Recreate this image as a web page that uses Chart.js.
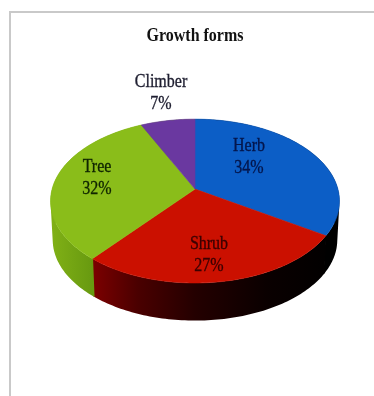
<!DOCTYPE html>
<html>
<head>
<meta charset="utf-8">
<style>
  html, body { margin: 0; padding: 0; background: #fff; }
  #frame { position: absolute; left: 9px; top: 11px; width: 365px; height: 385px;
           border-left: 2px solid #c9c9c9; border-top: 2px solid #c9c9c9; box-sizing: border-box; }
  canvas { position: absolute; left: 0; top: 0; }
</style>
<script src="https://cdn.jsdelivr.net/npm/chart.js@4/dist/chart.umd.min.js"></script>
</head>
<body>
<div id="frame"></div>
<canvas id="chart" width="374" height="396"></canvas>
<script>
const categories = ['Herb', 'Shrub', 'Tree', 'Climber'];
const shares = [34, 27, 32, 7];
const topColors = ['#0c5ec6', '#cb1000', '#8abd1a', '#6a38a0'];
const labelColors = ['#04164c', '#3a0202', '#102600', '#1e1e30'];
const titleText = 'Growth forms';

// Tilted-disc projection: the far rim recedes, so the hub sits above the ellipse centre.
const TILT = 0.146, SQUASH = 0.561, DEPTH = 39, FLOOR_SCALE = 0.985;
// Text in this figure is drawn tall and narrow.
const TEXT_STRETCH = 1.22;

function project(el, angle, shift, scale) {
  const u = Math.cos(angle), v = Math.sin(angle);
  const w = 1 - TILT * v;
  return [
    el.x + el.outerRadius * scale * u / w,
    el.y + shift + el.outerRadius * SQUASH * scale * v / w
  ];
}

function wallFill(ctx, index) {
  const g = ctx.createLinearGradient(52, 0, 338, 0);
  if (index === 2 || index === 3) {
    g.addColorStop(0, '#80b016');
    g.addColorStop(0.14, '#689a10');
    return g;
  }
  if (index === 1) {
    g.addColorStop(0.13, '#800000');
    g.addColorStop(0.3, '#4a0000');
    g.addColorStop(0.5, '#240000');
    g.addColorStop(0.75, '#0a0000');
    g.addColorStop(1, '#000000');
    return g;
  }
  return '#000000';
}

function signedArea(points) {
  return points.reduce((sum, [x, y], k) => {
    const [nx, ny] = points[(k + 1) % points.length];
    return sum + x * ny - nx * y;
  }, 0);
}

// The wall is one path of small quads wound the same way, so none of them cancel.
function drawWall(ctx, el, index, startAngle, endAngle) {
  const from = startAngle - 0.006, to = endAngle + 0.006;
  const steps = Math.max(2, Math.ceil((to - from) / 0.02));
  ctx.beginPath();
  for (let i = 0; i < steps; i++) {
    const a = from + (to - from) * i / steps;
    const b = from + (to - from) * (i + 1) / steps;
    const corners = [
      project(el, a, 0, 1), project(el, b, 0, 1),
      project(el, b, DEPTH, FLOOR_SCALE), project(el, a, DEPTH, FLOOR_SCALE)
    ];
    if (signedArea(corners) < 0) corners.reverse();
    corners.forEach(([x, y], k) => (k ? ctx.lineTo(x, y) : ctx.moveTo(x, y)));
    ctx.closePath();
  }
  ctx.fillStyle = wallFill(ctx, index);
  ctx.fill();
}

const discPlugin = {
  id: 'tiltedDisc',
  afterLayout(chart) {
    const block = chart.titleBlock;
    if (block.stretched) return;
    block.stretched = true;
    const plainDraw = block.draw;
    block.draw = function () {
      const ctx = this.ctx;
      const mid = this.top + this.height / 2;
      ctx.save();
      ctx.translate(0, mid);
      ctx.scale(1, TEXT_STRETCH);
      ctx.translate(0, -mid);
      plainDraw.call(this);
      ctx.restore();
    };
  },
  beforeDatasetDraw(chart, args) {
    const { ctx } = chart;
    const arcs = args.meta.data;
    ctx.save();
    // Side wall first, then the top faces over it.
    arcs.forEach((el, i) => {
      const { startAngle, endAngle } = el.getProps(['startAngle', 'endAngle'], true);
      drawWall(ctx, el, i, startAngle, endAngle);
    });
    arcs.forEach((el) => {
      const { startAngle, endAngle } = el.getProps(['startAngle', 'endAngle'], true);
      const steps = Math.ceil((endAngle - startAngle) / 0.02);
      ctx.beginPath();
      ctx.moveTo(el.x, el.y);
      for (let i = 0; i <= steps; i++) {
        const [x, y] = project(el, startAngle + (endAngle - startAngle) * i / steps, 0, 1);
        ctx.lineTo(x, y);
      }
      ctx.closePath();
      ctx.fillStyle = el.options.backgroundColor;
      ctx.strokeStyle = el.options.backgroundColor;
      ctx.lineWidth = 0.6;
      ctx.fill();
      ctx.stroke();
    });
    ctx.restore();
    return false;
  },
  afterDatasetsDraw(chart, args, opts) {
    const { ctx } = chart;
    const values = chart.data.datasets[0].data;
    const tallText = (text, x, y) => {
      ctx.save();
      ctx.translate(x, y);
      ctx.scale(1, TEXT_STRETCH);
      ctx.fillText(text, 0, 0);
      ctx.strokeText(text, 0, 0);
      ctx.restore();
    };
    ctx.save();
    ctx.font = opts.font;
    ctx.textAlign = 'center';
    ctx.textBaseline = 'middle';
    ctx.lineWidth = 0.3;
    chart.data.labels.forEach((name, i) => {
      const [x, y] = opts.anchors[i];
      ctx.fillStyle = labelColors[i];
      ctx.strokeStyle = labelColors[i];
      tallText(name, x, y);
      tallText(values[i] + '%', x, y + opts.lineGap);
    });
    ctx.restore();
  }
};

new Chart(document.getElementById('chart'), {
  type: 'pie',
  data: {
    labels: categories,
    datasets: [{ data: shares, backgroundColor: topColors, borderWidth: 0 }]
  },
  options: {
    responsive: false,
    animation: false,
    layout: { padding: { top: 26, left: 52, right: 36, bottom: 64 } },
    plugins: {
      legend: { display: false },
      tooltip: { enabled: false },
      title: {
        display: true,
        text: titleText,
        color: '#111111',
        font: { family: '"Liberation Serif", serif', size: 16, weight: 'bold' },
        padding: { top: 0, bottom: 1 }
      },
      tiltedDisc: {
        font: '16px "Liberation Serif", serif',
        lineGap: 22,
        anchors: [[249, 146], [209, 244], [97, 167], [161, 82]]
      }
    }
  },
  plugins: [discPlugin]
});
</script>
</body>
</html>
